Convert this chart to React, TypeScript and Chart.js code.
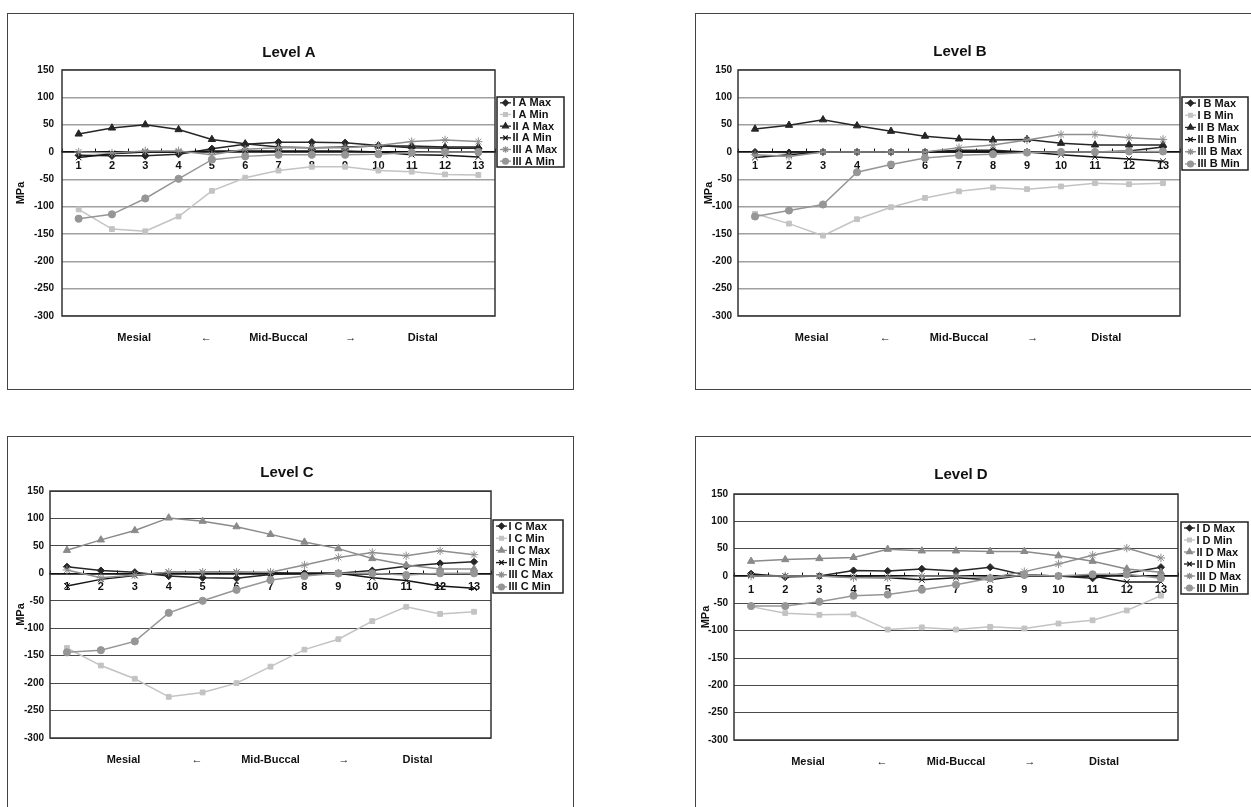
import React, { useEffect, useRef } from 'react';
import { Chart, registerables } from 'chart.js';
import { drawPoint } from 'chart.js/helpers';

Chart.register(...registerables);

const FONT = '"Liberation Sans", Arial, Helvetica, sans-serif';

// ---------- data ----------
const CATEGORIES = ['1', '2', '3', '4', '5', '6', '7', '8', '9', '10', '11', '12', '13'];
const AXIS_WORDS = ['', 'Mesial', '←', 'Mid-Buccal', '→', 'Distal', ''];
const Y_MIN = -300;
const Y_MAX = 150;
const Y_STEP = 50;
const SERIES_TEMPLATES = ['I # Max', 'I # Min', 'II # Max', 'II # Min', 'III # Max', 'III # Min'];

const A_I_MAX = [-6, -7, -7, -4, 6, 14, 18, 18, 17, 12, 8, 7, 7];
const A_I_MIN = [-105, -141, -145, -118, -71, -47, -34, -27, -27, -34, -36, -41, -42];
const A_II_MAX = [33, 44, 50, 41, 23, 15, 9, 8, 9, 11, 11, 9, 9];
const A_II_MIN = [-10, -3, 0, 0, 2, 2, 2, 2, 2, 0, -5, -6, -9];
const A_III_MAX = [0, -2, 2, 2, -5, 5, 8, 8, 8, 12, 19, 22, 19];
const A_III_MIN = [-122, -114, -85, -49, -14, -8, -5, -5, -5, -4, -1, 0, 0];

const B_I_MAX = [0, -1, 0, 0, 0, 0, 3, 3, 0, 0, 0, 2, 9];
const B_I_MIN = [-113, -131, -153, -123, -101, -84, -72, -65, -68, -63, -57, -59, -57];
const B_II_MAX = [42, 49, 59, 48, 38, 29, 24, 22, 23, 16, 13, 13, 13];
const B_II_MIN = [-10, -5, 0, 0, 0, 0, 0, 0, 0, -5, -9, -13, -17];
const B_III_MAX = [-5, -8, 0, 0, 0, 0, 8, 13, 22, 32, 32, 26, 23];
const B_III_MIN = [-118, -107, -96, -37, -23, -11, -6, -4, -1, 0, 0, 1, 1];

const C_I_MAX = [12, 5, 2, -5, -8, -9, -2, 0, 0, 5, 13, 18, 21];
const C_I_MIN = [-136, -168, -192, -225, -217, -200, -170, -139, -120, -87, -61, -74, -70];
const C_II_MAX = [42, 61, 78, 101, 95, 85, 71, 57, 45, 27, 15, 8, 8];
const C_II_MIN = [-23, -11, -4, 2, 2, 2, 1, 0, 0, -8, -13, -23, -27];
const C_III_MAX = [6, -8, -3, 2, 2, 2, 2, 15, 29, 38, 32, 41, 34];
const C_III_MIN = [-144, -140, -124, -72, -50, -30, -12, -5, 0, 0, -3, 0, 0];

const D_I_MAX = [4, -2, 0, 10, 9, 13, 9, 16, 2, 0, -4, 5, 16];
const D_I_MIN = [-56, -68, -71, -70, -98, -94, -98, -93, -96, -87, -81, -63, -36];
const D_II_MAX = [27, 30, 32, 34, 49, 46, 46, 45, 45, 37, 27, 13, 7];
const D_II_MIN = [2, 0, 0, -2, -3, -7, -3, -7, 2, 0, 0, -11, -11];
const D_III_MAX = [0, 0, 0, -3, -3, 0, 0, -3, 8, 22, 38, 51, 33];
const D_III_MIN = [-55, -55, -47, -36, -34, -25, -16, -4, 2, 0, 3, 3, -4];

// ---------- styles ----------
type SeriesStyle = { color: string; point: string; r: number };
const styleSet = (iiMaxColor: string): SeriesStyle[] => [
  { color: '#262626', point: 'rectRot', r: 3.6 },
  { color: '#c3c3c3', point: 'rect', r: 3.4 },
  { color: iiMaxColor, point: 'triangle', r: 4.2 },
  { color: '#141414', point: 'crossRot', r: 4 },
  { color: '#8e8e8e', point: 'star', r: 4.2 },
  { color: '#969696', point: 'circle', r: 3.6 },
];

type LevelCfg = {
  name: string;
  left: number;
  top: number;
  W: number;
  H: number;
  plotLeft: number;
  plotRight: number;
  plotTop: number;
  plotBottom: number;
  titleX: number;
  titleY: number;
  yTickPad: number;
  yTitlePad: number;
  legend: { x: number; y: number; w: number; h: number };
  grid: string;
  gridW: number;
  styles: SeriesStyle[];
  series: number[][];
};

const LEVELS: LevelCfg[] = [
  {
    name: 'A', left: 7, top: 13, W: 567, H: 377,
    plotLeft: 55, plotRight: 488, plotTop: 57, plotBottom: 303,
    titleX: 282, titleY: 40, yTickPad: 8, yTitlePad: 7,
    legend: { x: 490, y: 84, w: 67, h: 70 },
    grid: '#a0a0a0', gridW: 1.6, styles: styleSet('#262626'),
    series: [A_I_MAX, A_I_MIN, A_II_MAX, A_II_MIN, A_III_MAX, A_III_MIN],
  },
  {
    name: 'B', left: 695, top: 13, W: 567, H: 377,
    plotLeft: 43, plotRight: 485, plotTop: 57, plotBottom: 303,
    titleX: 265, titleY: 39, yTickPad: 6, yTitlePad: 7,
    legend: { x: 487, y: 84, w: 66, h: 73 },
    grid: '#a0a0a0', gridW: 1.6, styles: styleSet('#262626'),
    series: [B_I_MAX, B_I_MIN, B_II_MAX, B_II_MIN, B_III_MAX, B_III_MIN],
  },
  {
    name: 'C', left: 7, top: 436, W: 567, H: 377,
    plotLeft: 43, plotRight: 484, plotTop: 55, plotBottom: 302,
    titleX: 280, titleY: 37, yTickPad: 6, yTitlePad: 7,
    legend: { x: 486, y: 84, w: 70, h: 73 },
    grid: '#4a4a4a', gridW: 1, styles: styleSet('#8a8a8a'),
    series: [C_I_MAX, C_I_MIN, C_II_MAX, C_II_MIN, C_III_MAX, C_III_MIN],
  },
  {
    name: 'D', left: 695, top: 436, W: 567, H: 377,
    plotLeft: 39, plotRight: 483, plotTop: 58, plotBottom: 304,
    titleX: 266, titleY: 39, yTickPad: 6, yTitlePad: 4,
    legend: { x: 486, y: 86, w: 67, h: 72 },
    grid: '#4a4a4a', gridW: 1, styles: styleSet('#8a8a8a'),
    series: [D_I_MAX, D_I_MIN, D_II_MAX, D_II_MIN, D_III_MAX, D_III_MIN],
  },
];

// ---------- plugins ----------
const plotFrame = {
  id: 'plotFrame',
  beforeDatasetsDraw(chart: any) {
    const { ctx, chartArea: a } = chart;
    ctx.save();
    ctx.strokeStyle = '#333';
    ctx.lineWidth = 1.5;
    ctx.strokeRect(a.left, a.top, a.right - a.left, a.bottom - a.top);
    ctx.restore();
  },
};

const levelTitle = {
  id: 'levelTitle',
  afterDraw(chart: any, _args: any, opts: any) {
    const { ctx } = chart;
    ctx.save();
    ctx.font = `bold 15px ${FONT}`;
    ctx.fillStyle = '#111';
    ctx.textAlign = 'center';
    ctx.textBaseline = 'middle';
    ctx.fillText(opts.text, opts.x, opts.y);
    ctx.restore();
  },
};

const boxLegend = {
  id: 'boxLegend',
  afterDraw(chart: any, _args: any, opts: any) {
    const { ctx } = chart;
    const { x, y, w, h } = opts;
    ctx.save();
    ctx.fillStyle = '#fff';
    ctx.fillRect(x, y, w, h);
    ctx.strokeStyle = '#222';
    ctx.lineWidth = 1.5;
    ctx.strokeRect(x, y, w, h);
    const sets = chart.data.datasets;
    const rowH = h / sets.length;
    sets.forEach((ds: any, i: number) => {
      const cy = y + rowH * (i + 0.5);
      ctx.strokeStyle = ds.borderColor;
      ctx.lineWidth = 1.3;
      ctx.beginPath();
      ctx.moveTo(x + 3, cy);
      ctx.lineTo(x + 14, cy);
      ctx.stroke();
      ctx.fillStyle = ds.pointBackgroundColor;
      ctx.strokeStyle = ds.pointBorderColor;
      drawPoint(ctx, { pointStyle: ds.pointStyle, radius: ds.pointRadius * 0.8, borderWidth: 1, rotation: 0 }, x + 8.5, cy);
      ctx.fillStyle = '#111';
      ctx.font = `bold 11px ${FONT}`;
      ctx.textAlign = 'left';
      ctx.textBaseline = 'middle';
      ctx.fillText(ds.label, x + 15.5, cy + 0.5);
    });
    ctx.restore();
  },
};

// ---------- chart ----------
function LevelChart({ cfg }: { cfg: LevelCfg }) {
  const ref = useRef<HTMLCanvasElement>(null);

  useEffect(() => {
    if (!ref.current) return;
    const bold = (size: number) => ({ family: FONT, size, weight: 'bold' as const });
    const datasets = cfg.series.map((vals, i) => {
      const st = cfg.styles[i];
      return {
        label: SERIES_TEMPLATES[i].replace('#', cfg.name),
        data: vals,
        xAxisID: 'x',
        yAxisID: 'y',
        borderColor: st.color,
        backgroundColor: st.color,
        pointBackgroundColor: st.color,
        pointBorderColor: st.color,
        pointStyle: st.point,
        pointRadius: st.r,
        pointBorderWidth: 1,
        borderWidth: 1.5,
        tension: 0,
        order: cfg.series.length - i,
      };
    });

    const chart = new Chart(ref.current, {
      type: 'line',
      data: { labels: CATEGORIES, datasets },
      plugins: [plotFrame, levelTitle, boxLegend],
      options: {
        animation: false,
        responsive: false,
        devicePixelRatio: 1,
        events: [],
        layout: {
          padding: {
            left: 0,
            top: cfg.plotTop,
            right: cfg.W - cfg.plotRight,
            bottom: cfg.H - cfg.plotBottom - 30,
          },
        },
        plugins: {
          legend: { display: false },
          title: { display: false },
          tooltip: { enabled: false },
          levelTitle: { text: `Level ${cfg.name}`, x: cfg.titleX, y: cfg.titleY },
          boxLegend: cfg.legend,
        } as any,
        scales: {
          x: {
            type: 'category',
            axis: 'x',
            position: { y: 0 } as any,
            offset: true,
            afterFit(s: any) {
              s.paddingLeft = 0; s.paddingRight = 0; s.paddingTop = 0; s.paddingBottom = 0;
            },
            grid: {
              display: true,
              drawOnChartArea: false,
              drawTicks: true,
              tickLength: -4,
              offset: true,
              color: '#111',
              tickColor: '#111',
              tickWidth: 1,
            },
            border: { display: true, color: '#111', width: 1.5 },
            ticks: {
              font: bold(11),
              color: '#111',
              padding: 11,
              autoSkip: false,
              maxRotation: 0,
              minRotation: 0,
            },
          },
          x2: {
            type: 'category',
            axis: 'x',
            position: 'bottom',
            labels: AXIS_WORDS,
            offset: false,
            afterFit(s: any) {
              s.height = 30;
              s.paddingLeft = 0; s.paddingRight = 0; s.paddingTop = 0; s.paddingBottom = 0;
            },
            grid: { display: false },
            border: { display: false },
            ticks: {
              font: bold(11),
              color: '#111',
              padding: 7,
              autoSkip: false,
              maxRotation: 0,
              minRotation: 0,
            },
          },
          y: {
            type: 'linear',
            position: 'left',
            min: Y_MIN,
            max: Y_MAX,
            afterFit(s: any) {
              s.width = cfg.plotLeft;
              s.paddingLeft = 0; s.paddingRight = 0; s.paddingTop = 0; s.paddingBottom = 0;
            },
            ticks: {
              stepSize: Y_STEP,
              font: bold(10),
              color: '#111',
              padding: cfg.yTickPad,
            },
            grid: {
              drawTicks: false,
              color: (c: any) => (c.tick && c.tick.value === 0 ? '#111' : cfg.grid),
              lineWidth: (c: any) => (c.tick && c.tick.value === 0 ? 1.5 : cfg.gridW),
            },
            border: { display: false },
            title: {
              display: true,
              text: 'MPa',
              font: bold(11),
              color: '#111',
              padding: { top: cfg.yTitlePad, bottom: 0 },
            },
          },
        },
      } as any,
    });
    return () => chart.destroy();
  }, [cfg]);

  return (
    <>
      <div
        style={{
          position: 'absolute',
          left: cfg.left,
          top: cfg.top,
          width: cfg.W,
          height: cfg.H,
          border: '1px solid #444',
          boxSizing: 'border-box',
          background: '#fff',
        }}
      />
      <canvas
        ref={ref}
        width={cfg.W}
        height={cfg.H}
        style={{ position: 'absolute', left: cfg.left, top: cfg.top, width: cfg.W, height: cfg.H }}
      />
    </>
  );
}

export default function App() {
  return (
    <div
      style={{
        position: 'absolute',
        left: 0,
        top: 0,
        width: 1251,
        height: 807,
        overflow: 'hidden',
        background: '#fff',
      }}
    >
      {LEVELS.map((cfg) => (
        <LevelChart key={cfg.name} cfg={cfg} />
      ))}
    </div>
  );
}
